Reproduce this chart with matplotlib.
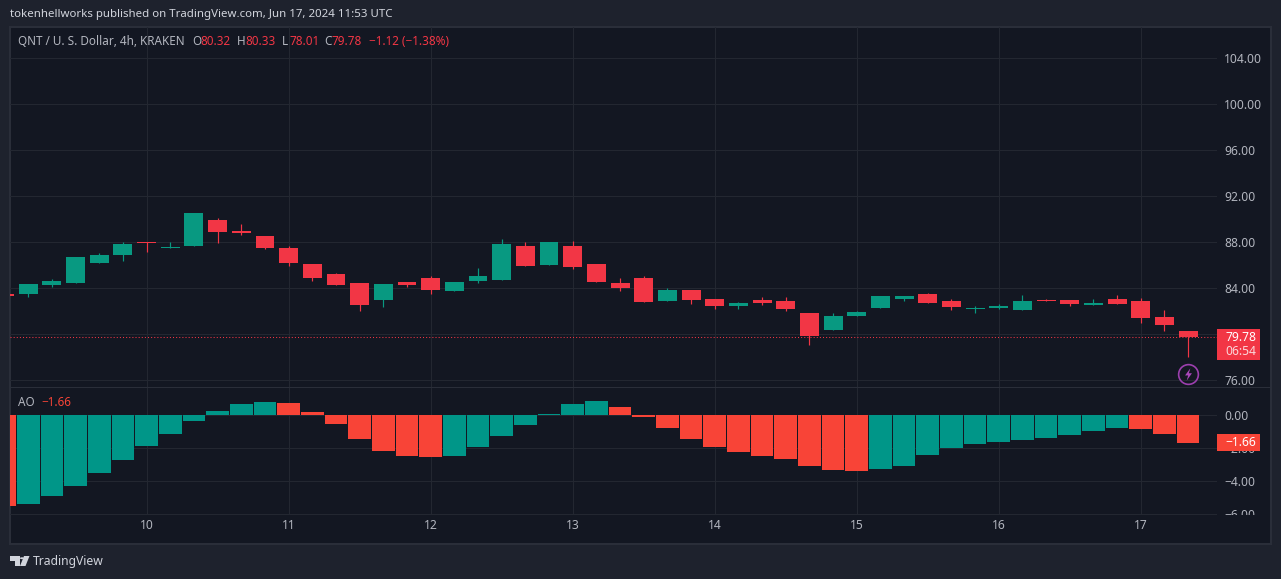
import matplotlib
matplotlib.use('Agg')
import matplotlib.pyplot as plt
from matplotlib.patches import Rectangle, Polygon, Circle

plt.rcParams['font.family'] = ['Noto Sans', 'DejaVu Sans']

W, H = 1281, 579

opens = [83.51, 83.51, 84.29, 84.46, 86.20, 86.90, 88.03, 87.51, 87.68, 89.94,
         88.99, 88.55, 87.51, 86.12, 85.25, 84.46, 82.99, 84.55, 84.90, 83.77,
         84.64, 84.72, 87.68, 86.03, 87.68, 86.12, 84.46, 84.90, 82.90, 83.86,
         83.07, 82.46, 82.99, 82.90, 81.86, 80.38, 81.59, 82.29, 83.07, 83.51,
         82.90, 82.20, 82.29, 82.12, 82.99, 82.99, 82.55, 83.07, 82.90, 81.51, 80.32]
highs = [83.53, 84.38, 84.81, 86.72, 87.07, 88.03, 88.03, 88.03, 90.55, 90.12,
         89.59, 88.55, 87.68, 86.12, 85.33, 84.46, 84.38, 84.55, 85.07, 84.55,
         85.77, 88.29, 88.03, 88.03, 88.12, 86.12, 84.90, 85.07, 84.03, 83.86,
         83.07, 82.81, 83.25, 83.25, 81.86, 81.86, 82.03, 83.33, 83.33, 83.59,
         83.07, 82.46, 82.64, 83.42, 83.07, 82.99, 83.07, 83.42, 83.16, 82.12, 80.33]
lows = [83.30, 83.25, 84.12, 84.46, 86.20, 86.38, 87.16, 87.51, 87.68, 87.94,
        88.64, 87.42, 85.94, 84.64, 84.29, 82.03, 82.38, 84.12, 83.51, 83.77,
        84.46, 84.72, 85.94, 86.03, 85.68, 84.55, 83.77, 82.81, 82.90, 82.64,
        82.20, 82.20, 82.55, 82.03, 79.07, 80.38, 81.59, 82.29, 82.90, 82.72,
        82.12, 81.86, 82.20, 82.12, 82.90, 82.46, 82.55, 82.64, 80.99, 80.29, 78.01]
closes = [83.33, 84.38, 84.64, 86.72, 86.90, 87.86, 87.94, 87.59, 90.55, 88.90,
          88.81, 87.51, 86.20, 84.90, 84.29, 82.55, 84.38, 84.29, 83.86, 84.55,
          85.07, 87.86, 85.94, 88.03, 85.86, 84.55, 84.03, 82.81, 83.86, 82.99,
          82.46, 82.72, 82.72, 82.20, 79.86, 81.59, 81.94, 83.33, 83.33, 82.72,
          82.38, 82.29, 82.46, 82.90, 82.90, 82.64, 82.72, 82.64, 81.42, 80.81, 79.78]
ao_values = [-5.51, -5.39, -4.90, -4.29, -3.50, -2.71, -1.86, -1.13, -0.33, 0.27,
             0.70, 0.82, 0.76, 0.21, -0.52, -1.43, -2.16, -2.46, -2.53, -2.46,
             -1.92, -1.25, -0.58, 0.09, 0.70, 0.88, 0.52, -0.09, -0.76, -1.43,
             -1.92, -2.22, -2.46, -2.65, -3.07, -3.32, -3.38, -3.26, -3.07, -2.40,
             -1.98, -1.73, -1.61, -1.49, -1.37, -1.19, -0.94, -0.76, -0.82, -1.13, -1.66]

price_ticks = [76, 80, 84, 88, 92, 96, 100, 104]
ao_ticks = [0, -2, -4, -6]
day_ticks = [6, 12, 18, 24, 30, 36, 42, 48]
day_labels = ['10', '11', '12', '13', '14', '15', '16', '17']

bg = '#1e222d'
panel = '#131722'
border = '#2a2e39'
gridc = '#232731'
textc = '#b2b5be'
green = '#089981'
red = '#f23645'
ao_green = '#009688'
ao_red = '#f84437'
purple = '#9c3fae'


def fx(x):
    return x / W


def fy(y):
    return 1 - y / H


def px_axes(x0, y0, x1, y1, **kw):
    return fig.add_axes([fx(x0), fy(y1), (x1 - x0) / W, (y1 - y0) / H], **kw)


def px_rect(x0, y0, x1, y1, zorder=2, **kw):
    r = Rectangle((fx(x0), fy(y1)), (x1 - x0) / W, (y1 - y0) / H,
                  transform=fig.transFigure, zorder=zorder, **kw)
    fig.add_artist(r)


def px_text(x, y, s, color=textc, size=8.45, **kw):
    fig.text(fx(x), fy(y), s, color=color, fontsize=size, va='center', zorder=6, **kw)


def px_poly(pts, color):
    fig.add_artist(Polygon([(fx(a), fy(b)) for a, b in pts], closed=True, color=color,
                           transform=fig.transFigure, lw=0, zorder=6))


def style(ax, ticks, hidden=()):
    ax.set_facecolor('none')
    for s in ax.spines.values():
        s.set_visible(False)
    ax.yaxis.tick_right()
    ax.set_yticks(ticks)
    # a label that sits fully behind the value tag is left out
    ax.set_yticklabels(['' if t in hidden else f'{t:.2f}'.replace('-', '\u2212') for t in ticks])
    ax.tick_params(axis='y', length=0, pad=5.2, labelcolor=textc, labelsize=8.7)
    ax.tick_params(axis='x', length=0, labelbottom=False)
    ax.set_xticks(day_ticks)
    ax.grid(True, color=gridc, lw=0.8)
    ax.set_axisbelow(True)
    ax.set_xlim(0.228, 51.22)


fig = plt.figure(figsize=(W / 100, H / 100), dpi=100, facecolor=bg)
px_rect(10, 27, 1271, 544, zorder=-1, facecolor=panel, edgecolor=border, lw=1.5)

idx = list(range(len(closes)))
candle_colors = [green if c >= o else red for o, c in zip(opens, closes)]

ax = px_axes(10, 27, 1217, 387)
style(ax, price_ticks, hidden=(80,))
ax.set_ylim(75.42, 106.72)
ax.vlines(idx, lows, highs, colors=candle_colors, lw=0.85, zorder=3)
ax.bar(idx, [abs(c - o) for o, c in zip(opens, closes)],
       bottom=[min(o, c) for o, c in zip(opens, closes)],
       width=0.80, color=candle_colors, zorder=4)
ax.axhline(closes[-1], color=red, lw=0.75, ls=(0, (1, 2)), zorder=5)

# lightning mark under the last candle
ax.plot(idx[-1], 76.52, marker='o', ms=14.2, mfc='none', mec=purple, mew=1.2, zorder=5, clip_on=False)
bolt = [(0.3, 1), (-0.55, -0.15), (-0.05, -0.15), (-0.3, -1), (0.55, 0.2), (0.05, 0.2)]
ax.plot(idx[-1], 76.52, marker=bolt, ms=9, color='#ab47bc', mew=0, zorder=5)

ax2 = px_axes(10, 388, 1217, 515)
style(ax2, ao_ticks)
ax2.set_ylim(-6.06, 1.67)
ao_colors = [ao_red] + [ao_green if b >= a else ao_red for a, b in zip(ao_values, ao_values[1:])]
ax2.bar(idx, ao_values, width=0.96, color=ao_colors, zorder=3)

# time axis strip, covers the cut off -6.00 label
ax3 = px_axes(11, 515, 1270, 543, zorder=1, facecolor=panel)
for s in ax3.spines.values():
    s.set_visible(False)
ax3.set_xlim(0.228 + 1 / 23.67, 0.228 + 1260 / 23.67)
ax3.set_yticks([])
ax3.set_xticks(day_ticks)
ax3.set_xticklabels(day_labels, color=textc, fontsize=8.7)
ax3.tick_params(axis='x', length=0, pad=-17)

px_rect(10, 386.5, 1271, 388, facecolor=border, edgecolor='none', zorder=2)

# value tags on the right
yp = H - ax.transData.transform((0, closes[-1]))[1]
px_rect(1217, yp - 8, 1260, yp + 23, facecolor=red, edgecolor='none', zorder=3)
px_text(1225, yp + 0.5, f'{closes[-1]:.2f}', color='white', size=8.7, fontweight='bold')
px_text(1225, yp + 15, '06:54', color='#fbd7da', size=8.7)

ya = H - ax2.transData.transform((0, ao_values[-1]))[1]
px_rect(1217, ya - 8.5, 1260, ya + 8.5, facecolor=ao_red, edgecolor='none', zorder=3)
px_text(1225, ya, '\u22121.66', color='white', size=8.7, fontweight='bold')

# header and legend texts
px_text(10, 14.5, 'tokenhellworks published on TradingView.com, Jun 17, 2024 11:53 UTC', color='#d1d4dc', size=8.25)
px_text(18, 41.5, 'QNT / U. S. Dollar, 4h, KRAKEN')
for x, s in [(192, 'O'), (237, 'H'), (282, 'L'), (324, 'C')]:
    px_text(x, 41.5, s)
for x, s in [(200, '80.32'), (245, '80.33'), (289, '78.01'), (332, '79.78'),
             (369, '\u22121.12 (\u22121.38%)')]:
    px_text(x, 41.5, s, color=red)
px_text(18, 402.5, 'AO')
px_text(41, 402.5, '\u22121.66', color=ao_red)

# logo
px_poly([(10, 556), (19.5, 556), (19.5, 566), (14.5, 566), (14.5, 560.5), (10, 560.5)], '#d1d4dc')
px_poly([(24, 556), (29.5, 556), (25.5, 566), (20, 566)], '#d1d4dc')
fig.add_artist(Circle((fx(22), fy(558.2)), 2.1 / W, transform=fig.transFigure, color='#d1d4dc', lw=0, zorder=6))
px_text(33, 561.5, 'TradingView', color='#d1d4dc', size=8.75)

fig.savefig('out.png', dpi=100, facecolor=bg)
